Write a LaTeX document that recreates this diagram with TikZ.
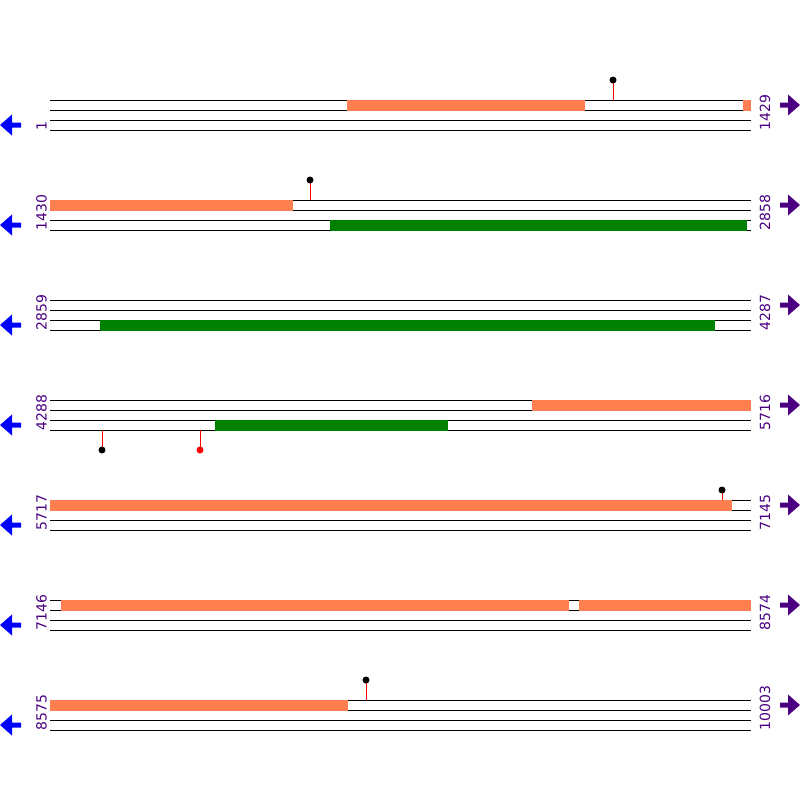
\documentclass[tikz,border=0pt]{standalone}
\usepackage{fontspec}
\setmainfont{DejaVu Sans}
\definecolor{barorange}{HTML}{FF7F50}
\definecolor{bargreen}{HTML}{008000}
\definecolor{lblpurple}{HTML}{4B0082}
\definecolor{arrblue}{HTML}{0000FF}
\begin{document}
\begin{tikzpicture}[x=1pt,y=-1pt,
  strand/.style={line width=1pt,black},
  lbl/.style={rotate=90,anchor=west,inner sep=0pt,text=lblpurple,font=\fontsize{14}{15}\selectfont},
  obar/.style={fill=barorange},
  gbar/.style={fill=bargreen},
  stick/.style={line width=1pt,red},
  bdot/.style={fill=black},
  rdot/.style={fill=red}]
\useasboundingbox (0,0) rectangle (800,800);
% rows
\foreach \r/\la/\ra in {0/1/1429,1/1430/2858,2/2859/4287,3/4288/5716,4/5717/7145,5/7146/8574,6/8575/10003}{
  \pgfmathsetmacro{\yy}{100+100*\r}
  \foreach \k in {0,10,20,30}{
    \draw[strand] (50,\yy+\k) -- (751,\yy+\k);
  }
  \node[lbl] (L\r) at (41.5,\yy+30.5) {\la};
  \node[lbl] (R\r) at (765,\yy+30.5) {\ra};
  \fill[arrblue] (0,\yy+25) -- (12,\yy+14.5) -- (12,\yy+22.5) -- (21,\yy+22.5) -- (21,\yy+27.5) -- (12,\yy+27.5) -- (12,\yy+35.5) -- cycle;
  \fill[lblpurple] (800,\yy+5) -- (788,\yy-5.5) -- (788,\yy+2.5) -- (780,\yy+2.5) -- (780,\yy+7.5) -- (788,\yy+7.5) -- (788,\yy+15.5) -- cycle;
}
% row 1
\fill[obar] (347,99.5) rectangle (585,110.5);
\fill[obar] (743,99.5) rectangle (751,110.5);
% row 2
\fill[obar] (50,199.5) rectangle (293,210.5);
\fill[gbar] (330,219.5) rectangle (747,230.5);
% row 3
\fill[gbar] (100,319.5) rectangle (715,330.5);
% row 4
\fill[obar] (532,399.5) rectangle (751,410.5);
\fill[gbar] (215,419.5) rectangle (448,430.5);
% row 5
\fill[obar] (50,499.5) rectangle (732,510.5);
% row 6
\fill[obar] (61,599.5) rectangle (569,610.5);
\fill[obar] (579,599.5) rectangle (751,610.5);
% row 7
\fill[obar] (50,699.5) rectangle (348,710.5);
% lollipops
\draw[stick] (613,100) -- (613,80);
\fill[bdot] (613,80) circle (3.5);
\draw[stick] (310,200) -- (310,180);
\fill[bdot] (310,180) circle (3.5);
\draw[stick] (102,430) -- (102,450);
\fill[bdot] (102,450) circle (3.5);
\draw[stick] (200,430) -- (200,450);
\fill[rdot] (200,450) circle (3.5);
\draw[stick] (722,499.5) -- (722,490);
\fill[bdot] (722,490) circle (3.5);
\draw[stick] (366,700) -- (366,680);
\fill[bdot] (366,680) circle (3.5);
\end{tikzpicture}
\end{document}
